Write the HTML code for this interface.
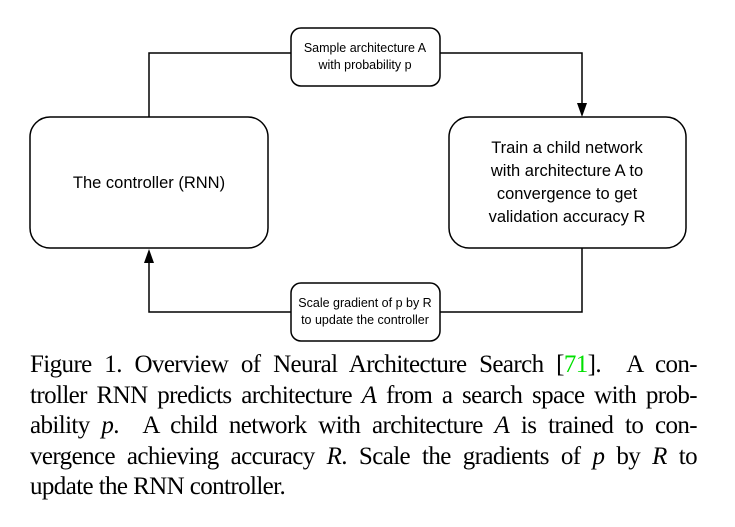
<!DOCTYPE html>
<html><head><style>
html,body{margin:0;padding:0;background:#fff;width:735px;height:527px;overflow:hidden}
svg text{font-family:"Liberation Sans",sans-serif;fill:#000}
.cap{position:absolute;left:30px;top:350px;width:667px;font-family:"Liberation Serif",serif;font-size:25px;line-height:30.5px;color:#000;letter-spacing:-0.6px}
.cap div{text-align:justify;text-align-last:justify;white-space:nowrap}
.cap div.last{text-align-last:left}
.cap i{font-style:italic}
</style></head><body>
<svg width="735" height="345" style="position:absolute;left:0;top:0">
<g fill="none" stroke="#000" stroke-width="1.5">
<polyline points="149,117 149,53 291,53"/>
<polyline points="440,53 582,53 582,104"/>
<polyline points="582,248 582,312 440,312"/>
<polyline points="291,312 149,312 149,262"/>
<rect x="30" y="117" width="238" height="131" rx="20"/>
<rect x="449" y="117" width="237" height="131" rx="20"/>
<rect x="291" y="28" width="149" height="58" rx="10"/>
<rect x="291" y="283" width="149" height="58" rx="10"/>
</g>
<polygon points="577,103 587,103 582,117" fill="#000"/>
<polygon points="144,263 154,263 149,249" fill="#000"/>
<text x="149" y="188" font-size="16.5" text-anchor="middle">The controller (RNN)</text>
<g font-size="16.5" text-anchor="middle">
<text x="567" y="153">Train a child network</text>
<text x="567" y="176">with architecture A to</text>
<text x="567" y="199">convergence to get</text>
<text x="567" y="222">validation accuracy R</text>
</g>
<g font-size="12.5" text-anchor="middle">
<text x="365" y="52">Sample architecture A</text>
<text x="365" y="69">with probability p</text>
<text x="365" y="307">Scale gradient of p by R</text>
<text x="365" y="324">to update the controller</text>
</g>
</svg>
<div class="cap">
<div>Figure 1. Overview of Neural Architecture Search [<span style="color:#00e000">71</span>]. &nbsp;A con-</div>
<div>troller RNN predicts architecture <i>A</i> from a search space with prob-</div>
<div>ability <i>p</i>. &nbsp;A child network with architecture <i>A</i> is trained to con-</div>
<div>vergence achieving accuracy <i>R</i>. Scale the gradients of <i>p</i> by <i>R</i> to</div>
<div class="last">update the RNN controller.</div>
</div>
</body></html>
